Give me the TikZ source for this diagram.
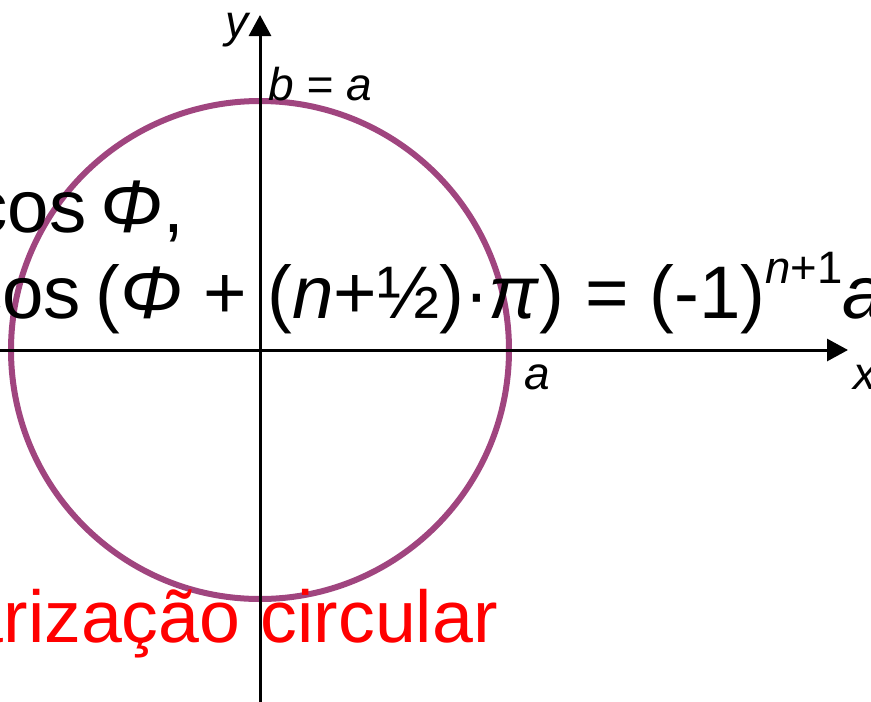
\documentclass[tikz,border=0pt]{standalone}
\usepackage{fontspec}
\setmainfont{Liberation Sans}
\usetikzlibrary{arrows.meta,positioning}
\definecolor{circpurple}{HTML}{A0457F}
\definecolor{labelred}{HTML}{FF0000}
\newcommand{\eqsup}[1]{\raisebox{35pt}{\fontsize{45.5}{48}\selectfont #1}}
\newcommand{\cosgap}{\hspace{0.19em}}

\begin{document}
\begin{tikzpicture}[x=1pt, y=-1pt,
  axis/.style={line width=3pt, -{Triangle[length=21pt, width=22pt]}},
  polcircle/.style={draw=circpurple, line width=6pt},
  axlabel/.style={font=\fontsize{46}{50}\selectfont\itshape, inner sep=0pt},
  formula/.style={font=\fontsize{74.5}{86}\selectfont, inner sep=0pt},
]
  \useasboundingbox (0,0) rectangle (871,702);
  % axes
  \coordinate (o) at (260,350);
  \coordinate (xstart) at (-5,350);
  \coordinate (xend) at (848,350);
  \coordinate (ystart) at (260,707);
  \coordinate (yend) at (260,15);
  \draw[polcircle] (o) circle[radius=249];
  \draw[axis] (xstart) -- (xend);
  \draw[axis] (ystart) -- (yend);
  \node[axlabel, anchor=base] (ylab) at (237,37) {y};
  \node[axlabel, anchor=base] (xlab) at (865,389) {x};
  \node[axlabel, anchor=base west] (alab) at (524,389) {a};
  \node[axlabel, anchor=base west] (blab) at (268,100) {b = a};
  % equations
  \node[formula, anchor=base east] (eqone) at (184,232) {cos\cosgap\textit{Φ},};
  \node[formula, anchor=base west] (eqtwo) at (-35,318)
    {cos\cosgap(\textit{Φ} + (\textit{n}+½)·\textit{π}) = (-1)\eqsup{\textit{n}+1}\textit{a}};
  \node[formula, font=\fontsize{73.5}{86}\selectfont, anchor=base east,
    text=labelred] (title) at (498,642) {arização circular};
\end{tikzpicture}
\end{document}
